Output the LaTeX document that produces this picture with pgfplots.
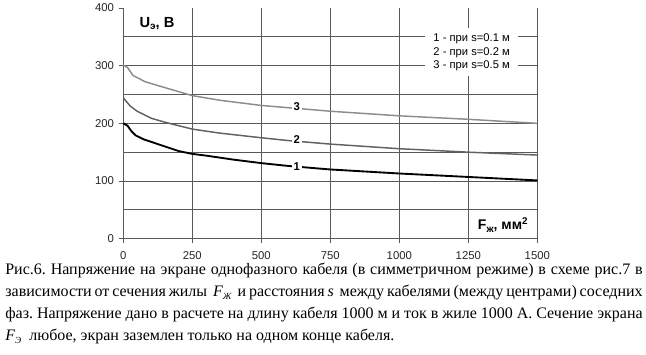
\documentclass[border=0pt]{standalone}
\usepackage{pgfplots}
\pgfplotsset{compat=1.18}
\usepackage{fontspec}
\setmainfont{Liberation Serif}
\newfontfamily\arialf{Liberation Sans}
\definecolor{gridc}{gray}{0.35}
\definecolor{cTwo}{gray}{0.38}
\definecolor{cThree}{gray}{0.55}
\begin{document}
\frenchspacing
\begin{tikzpicture}[x=1pt,y=1pt]
\useasboundingbox (-92.5pt,-86.5pt) rectangle (392pt,179pt);
\begin{axis}[
  scale only axis, width=310.5pt, height=173pt,
  xmin=0, xmax=1500, ymin=0, ymax=400,
  axis lines=left, axis line style={-, draw=gridc, line width=0.8pt},
  xtick={0,250,...,1500}, ytick={0,100,...,400},
  minor ytick={50,100,...,350},
  xmajorgrids=true, ymajorgrids=false, yminorgrids=true,
  grid style={draw=gridc, line width=0.7pt},
  minor grid style={draw=gridc, line width=0.7pt},
  major tick length=3.5pt, minor tick length=0pt,
  tick align=outside, tick style={draw=gridc, line width=0.7pt},
  ticklabel style={font=\arialf\fontsize{8.5}{9}\selectfont, text=black!85},
  /pgf/number format/assume math mode=true,
  /pgf/number format/1000 sep={},
  xticklabel style={yshift=-3pt},
  clip=false,
]
\addplot[black, line width=1.4pt] coordinates {
(0,200)(15,196)(30,186)(45,179)(75,172)(100,168)(150,160)(200,152)(250,147)(300,144)(400,137)(500,131)(600,126)(750,120)(1000,113)(1250,107)(1500,101)};
\addplot[cTwo, line width=1.1pt] coordinates {
(0,244)(25,230)(50,221)(100,209)(150,202)(250,190)(350,183)(500,175)(600,170)(750,164)(1000,156)(1250,150)(1500,145)};
\addplot[cThree, line width=1.1pt] coordinates {
(0,301)(15,297)(35,283)(80,272)(150,262)(250,248)(350,240)(500,231)(600,227)(750,221)(1000,213)(1250,207)(1500,200)};
\node[fill=white, inner sep=1.5pt, font=\arialf\bfseries\fontsize{8.5}{9}\selectfont] at (axis cs:628,228.5) {3};
\node[fill=white, inner sep=1.5pt, font=\arialf\bfseries\fontsize{8.5}{9}\selectfont] at (axis cs:628,172) {2};
\node[fill=white, inner sep=1.5pt, font=\arialf\bfseries\fontsize{8.5}{9}\selectfont] at (axis cs:628,125.5) {1};
\node[fill=white, inner xsep=6pt, inner ysep=4pt, align=center, font=\arialf\fontsize{8.4}{10.2}\selectfont] at (axis cs:1262,323) {1 - при s=0.1 м\\2 - при s=0.2 м\\3 - при s=0.5 м};
\node[font=\arialf\bfseries\fontsize{11}{12}\selectfont] at (axis cs:122,373) {U\raisebox{-0.35ex}{\fontsize{7.5}{8}\selectfont э}, В};
\node[font=\arialf\bfseries\fontsize{10.5}{12}\selectfont] at (axis cs:1376,23.7) {F\raisebox{-0.35ex}{\fontsize{7.5}{8}\selectfont ж}, мм\textsuperscript{2}};
\end{axis}
\node[anchor=north west, inner sep=0pt, text width=478pt, align=justify, font=\fontsize{12}{16.5}\selectfont] at (-88.7pt,-18pt) {Рис.6. Напряжение на экране однофазного кабеля (в симметричном режиме) в схеме рис.7 в\linebreak зависимости от сечения жилы \ \textit{F}\raisebox{-0.4ex}{\fontsize{7}{8}\selectfont\textit{Ж}} \ и расстояния \textit{s} \ между кабелями (между центрами) соседних\linebreak фаз. Напряжение дано в расчете на длину кабеля 1000 м и ток в жиле 1000 А. Сечение экрана\linebreak \textit{F}\raisebox{-0.4ex}{\fontsize{7}{8}\selectfont\textit{Э}} \ любое, экран заземлен только на одном конце кабеля.};
\end{tikzpicture}
\end{document}
